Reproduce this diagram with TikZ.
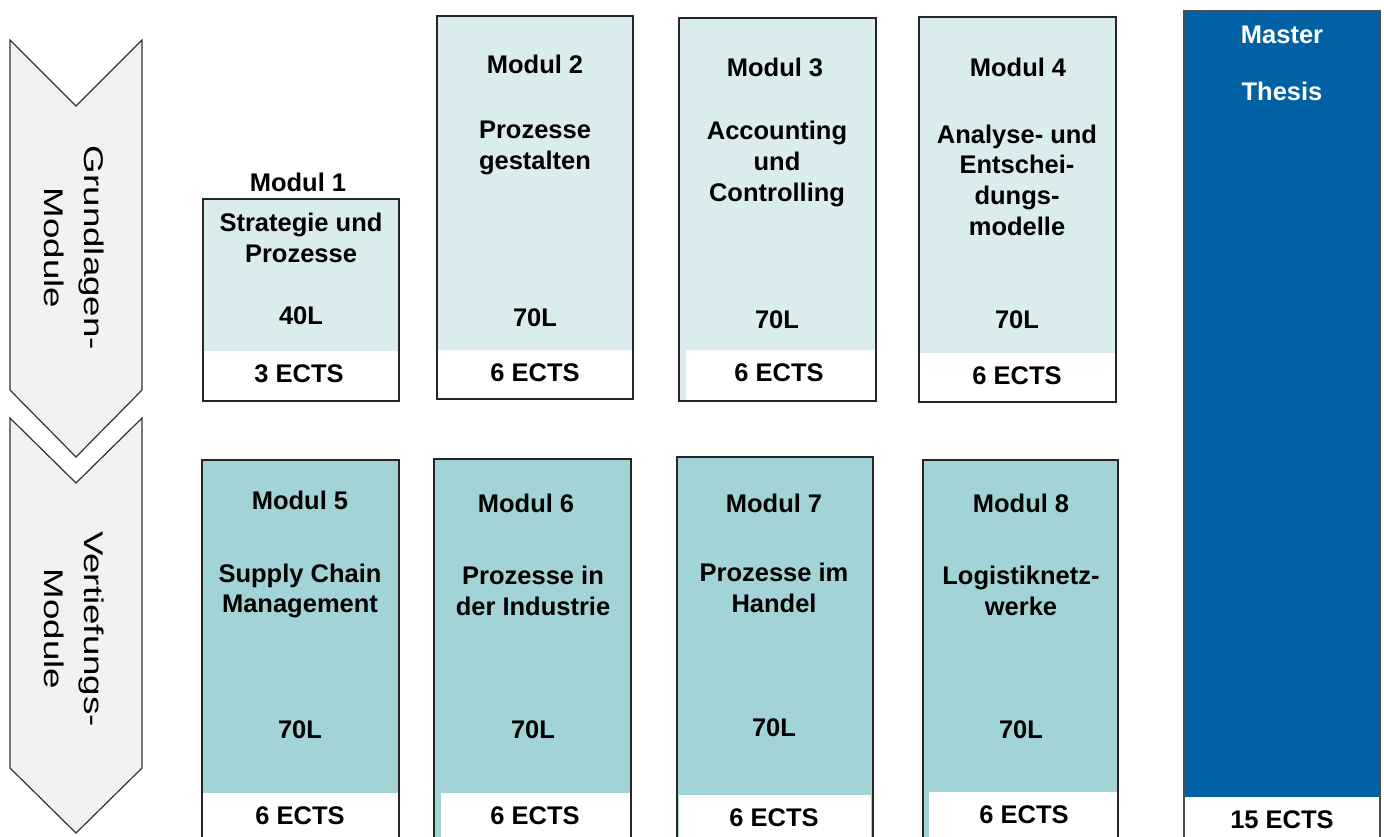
\documentclass[tikz,border=0pt]{standalone}
\usepackage{fontspec}
\setmainfont{Liberation Sans}
\usepackage{graphicx}
\definecolor{modlight}{RGB}{219,236,238}
\definecolor{moddark}{RGB}{161,211,215}
\definecolor{thesisblue}{RGB}{0,98,165}
\definecolor{chevgrey}{RGB}{242,242,242}

\begin{document}
\begin{tikzpicture}[
        x=0.5pt, y=-0.5pt,
        chevron/.style={draw=black!80, fill=chevgrey, line width=0.6pt},
        grund/.style={draw=black!85, fill=modlight, line width=0.7pt},
        vert/.style={draw=black!85, fill=moddark, line width=0.7pt},
        thesis/.style={draw=black!70, fill=thesisblue, line width=0.7pt},
        band/.style={fill=white},
        lbl/.style={font=\bfseries\fontsize{12.75}{15.3}\selectfont, align=center, inner sep=0pt},
        side/.style={rotate=-90, font=\fontsize{13.5}{20}\selectfont, inner sep=0pt}
      ]
        \useasboundingbox (0,0) rectangle (1384,836);
        \draw[chevron] (10,40) -- (76,106) -- (142,40) -- (142,390) -- (76,457) -- (10,390) -- cycle;
        \draw[chevron] (10,418) -- (76,483) -- (142,418) -- (142,768) -- (76,833) -- (10,768) -- cycle;
        \node[side] (grund) at (72,248) {\scalebox{1.36}[1]{\begin{tabular}{@{}c@{}}Grundlagen-\\Module\end{tabular}}};
        \node[side] (vertief) at (72,629) {\scalebox{1.36}[1]{\begin{tabular}{@{}c@{}}Vertiefungs-\\Module\end{tabular}}};

        \draw[grund] (203,199) rectangle (399,401);
        \fill[band] (204,351) rectangle (398,400);
        \node[lbl] (m1) at (298,182) {Modul 1};
        \node[lbl] (m1name) at (301,238) {Strategie und\\Prozesse};
        \node[lbl] (m1l) at (301,316) {40L};
        \node[lbl] (m1e) at (299,374) {3 ECTS};

        \draw[grund] (437,16) rectangle (633,399);
        \fill[band] (438,350) rectangle (632,398);
        \node[lbl] (m2) at (535,64) {Modul 2};
        \node[lbl] (m2name) at (535,148) {Prozesse\\gestalten};
        \node[lbl] (m2l) at (535,318) {70L};
        \node[lbl] (m2e) at (535,373) {6 ECTS};

        \draw[grund] (679,18) rectangle (876,401);
        \fill[band] (686,350) rectangle (875,400);
        \node[lbl] (m3) at (775,67) {Modul 3};
        \node[lbl] (m3name) at (777,164) {Accounting\\und\\Controlling};
        \node[lbl] (m3l) at (777,320) {70L};
        \node[lbl] (m3e) at (779,373) {6 ECTS};

        \draw[grund] (919,17) rectangle (1116,402);
        \fill[band] (920,353) rectangle (1115,401);
        \node[lbl] (m4) at (1018,67) {Modul 4};
        \node[lbl] (m4name) at (1017,180) {Analyse- und\\Entschei-\\dungs-\\modelle};
        \node[lbl] (m4l) at (1017,320) {70L};
        \node[lbl] (m4e) at (1017,376) {6 ECTS};

        \draw[thesis] (1184,11) rectangle (1380,840);
        \fill[band] (1185,797) rectangle (1379,840);
        \node[lbl, text=white] (ma) at (1282,35) {Master};
        \node[lbl, text=white] (mth) at (1282,91) {Thesis};
        \node[lbl] (mae) at (1282,820) {15 ECTS};

        \draw[vert] (202,460) rectangle (399,840);
        \fill[band] (203,793) rectangle (398,840);
        \node[lbl] (m5) at (300,500) {Modul 5};
        \node[lbl] (m5name) at (300,591) {Supply Chain\\Management};
        \node[lbl] (m5l) at (300,730) {70L};
        \node[lbl] (m5e) at (300,816) {6 ECTS};

        \draw[vert] (434,459) rectangle (631,840);
        \fill[band] (441,793) rectangle (630,840);
        \node[lbl] (m6) at (526,503) {Modul 6};
        \node[lbl] (m6name) at (533,591) {Prozesse in\\der Industrie};
        \node[lbl] (m6l) at (533,730) {70L};
        \node[lbl] (m6e) at (535,816) {6 ECTS};

        \draw[vert] (677,457) rectangle (873,840);
        \fill[band] (679,795) rectangle (871,840);
        \node[lbl] (m7) at (774,503) {Modul 7};
        \node[lbl] (m7name) at (774,588) {Prozesse im\\Handel};
        \node[lbl] (m7l) at (774,728) {70L};
        \node[lbl] (m7e) at (774,818) {6 ECTS};

        \draw[vert] (923,460) rectangle (1118,840);
        \fill[band] (929,792) rectangle (1117,840);
        \node[lbl] (m8) at (1021,503) {Modul 8};
        \node[lbl] (m8name) at (1021,591) {Logistiknetz-\\werke};
        \node[lbl] (m8l) at (1021,730) {70L};
        \node[lbl] (m8e) at (1024,815) {6 ECTS};
      \end{tikzpicture}
\end{document}
